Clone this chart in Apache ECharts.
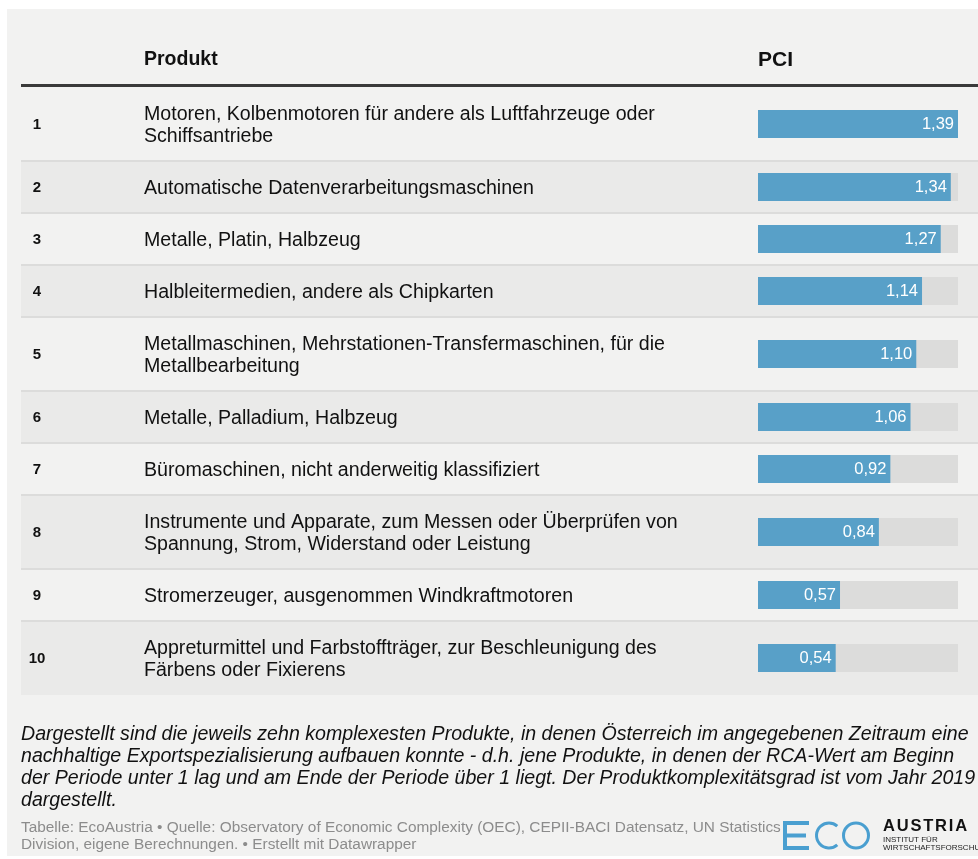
<!DOCTYPE html>
<html>
<head>
<meta charset="utf-8">
<title>PCI Tabelle</title>
<script src="https://cdn.jsdelivr.net/npm/echarts@6/dist/echarts.min.js"></script>
<style>
html, body { margin: 0; padding: 0; background: #ffffff; }
#chart { width: 978px; height: 859px; }
</style>
</head>
<body>
<div id="chart"></div>
<script>
// Daten
var ranks = ['1', '2', '3', '4', '5', '6', '7', '8', '9', '10'];
var products = [
	'Motoren, Kolbenmotoren für andere als Luftfahrzeuge oder\nSchiffsantriebe',
	'Automatische Datenverarbeitungsmaschinen',
	'Metalle, Platin, Halbzeug',
	'Halbleitermedien, andere als Chipkarten',
	'Metallmaschinen, Mehrstationen-Transfermaschinen, für die\nMetallbearbeitung',
	'Metalle, Palladium, Halbzeug',
	'Büromaschinen, nicht anderweitig klassifiziert',
	'Instrumente und Apparate, zum Messen oder Überprüfen von\nSpannung, Strom, Widerstand oder Leistung',
	'Stromerzeuger, ausgenommen Windkraftmotoren',
	'Appreturmittel und Farbstoffträger, zur Beschleunigung des\nFärbens oder Fixierens'
];
var pci = [1.39, 1.34, 1.27, 1.14, 1.10, 1.06, 0.92, 0.84, 0.57, 0.54];
var headers = ['Produkt', 'PCI'];
var noteLines = [
	'Dargestellt sind die jeweils zehn komplexesten Produkte, in denen Österreich im angegebenen Zeitraum eine',
	'nachhaltige Exportspezialisierung aufbauen konnte - d.h. jene Produkte, in denen der RCA-Wert am Beginn',
	'der Periode unter 1 lag und am Ende der Periode über 1 liegt. Der Produktkomplexitätsgrad ist vom Jahr 2019',
	'dargestellt.'
];
var sourceLines = [
	'Tabelle: EcoAustria • Quelle: Observatory of Economic Complexity (OEC), CEPII-BACI Datensatz, UN Statistics',
	'Division, eigene Berechnungen. • Erstellt mit Datawrapper'
];

var FONT = 'Liberation Sans, Arial, Helvetica, sans-serif';
var tableLeft = 21, tableRight = 978;
var barLeft = 758, barWidth = 200, barHeight = 28;
var firstRowTop = 87;

var myChart = echarts.init(document.getElementById('chart'), null, { renderer: 'canvas' });

var graphics = [];
var grids = [], xAxes = [], yAxes = [], series = [];

// Karte
graphics.push({ type: 'rect', shape: { x: 7, y: 9, width: 971, height: 847 }, style: { fill: '#f2f2f1' }, z: 0 });

// Kopfzeile
graphics.push({ type: 'text', x: 144, y: 60, style: { text: headers[0], font: 'bold 19.5px ' + FONT, fill: '#111', verticalAlign: 'middle' }, z: 5 });
graphics.push({ type: 'text', x: barLeft, y: 60, style: { text: headers[1], font: 'bold 21px ' + FONT, fill: '#111', verticalAlign: 'middle' }, z: 5 });
graphics.push({ type: 'rect', shape: { x: tableLeft, y: 84, width: tableRight - tableLeft, height: 3 }, style: { fill: '#3a3a3a' }, z: 5 });

var yPos = firstRowTop;
var maxVal = Math.max.apply(null, pci);
for (var i = 0; i < ranks.length; i++) {
	var lines = products[i].split('\n').length;
	var h = lines > 1 ? 74 : 52;
	// Zeilenhintergrund
	graphics.push({ type: 'rect', shape: { x: tableLeft, y: yPos, width: tableRight - tableLeft, height: h }, style: { fill: i % 2 === 0 ? '#f2f2f1' : '#eaeae9' }, z: 1 });
	if (i > 0) {
		graphics.push({ type: 'rect', shape: { x: tableLeft, y: yPos - 1, width: tableRight - tableLeft, height: 2 }, style: { fill: '#dcdcdb' }, z: 2 });
	}
	var cy = yPos + h / 2;
	graphics.push({ type: 'text', x: 37, y: cy + 1, style: { text: ranks[i], font: 'bold 15px ' + FONT, fill: '#111', align: 'center', verticalAlign: 'middle' }, z: 5 });
	graphics.push({ type: 'text', x: 144, y: cy + 1.5, style: { text: products[i], font: '19.6px ' + FONT, lineHeight: 22, fill: '#111', verticalAlign: 'middle' }, z: 5 });

	grids.push({ left: barLeft, width: barWidth, top: Math.round(cy - barHeight / 2), height: barHeight });
	xAxes.push({ type: 'value', gridIndex: i, min: 0, max: maxVal, show: false });
	yAxes.push({ type: 'category', gridIndex: i, data: [ranks[i]], show: false });
	series.push({
		type: 'bar',
		xAxisIndex: i,
		yAxisIndex: i,
		data: [pci[i]],
		barWidth: barHeight,
		showBackground: true,
		backgroundStyle: { color: '#dcdcdb' },
		itemStyle: { color: '#58a0c8' },
		label: {
			show: true,
			position: 'insideRight',
			distance: 4,
			color: '#ffffff',
			fontSize: 16.5,
			fontFamily: FONT,
			formatter: function(p) {
				return p.value.toFixed(2).replace('.', ',');
			}
		},
		silent: true,
		animation: false,
		z: 10
	});
	yPos += h;
}

// Anmerkungen
for (var n = 0; n < noteLines.length; n++) {
	graphics.push({ type: 'text', x: 21, y: 735 + n * 22, style: { text: noteLines[n], font: 'italic 19.6px ' + FONT, fill: '#111', verticalAlign: 'middle' }, z: 5 });
}
for (var s = 0; s < sourceLines.length; s++) {
	graphics.push({ type: 'text', x: 21, y: 828 + s * 17, style: { text: sourceLines[s], font: '15.4px ' + FONT, fill: '#8c8c8c', verticalAlign: 'middle' }, z: 5 });
}

// Logo
var logoBlue = '#4a9fd0';
graphics.push({ type: 'polyline', shape: { points: [[809, 823], [785, 823], [785, 848], [809, 848]] }, style: { stroke: logoBlue, lineWidth: 4, fill: null }, z: 6 });
graphics.push({ type: 'line', shape: { x1: 787, y1: 835.5, x2: 806, y2: 835.5 }, style: { stroke: logoBlue, lineWidth: 4 }, z: 6 });
graphics.push({ type: 'arc', shape: { cx: 829, cy: 835.5, r: 12.5, startAngle: Math.PI * 0.27, endAngle: Math.PI * 1.73, clockwise: true }, style: { stroke: logoBlue, lineWidth: 3, fill: null }, z: 6 });
graphics.push({ type: 'circle', shape: { cx: 856, cy: 835.5, r: 12.5 }, style: { stroke: logoBlue, lineWidth: 3, fill: null }, z: 6 });

// AUSTRIA mit Sperrung
var ctx = document.createElement('canvas').getContext('2d');
var logoFont = 'bold 16.5px ' + FONT;
ctx.font = logoFont;
var lx = 883;
'AUSTRIA'.split('').forEach(function(ch) {
	graphics.push({ type: 'text', x: lx, y: 826, style: { text: ch, font: logoFont, fill: '#111', verticalAlign: 'middle' }, z: 6 });
	lx += ctx.measureText(ch).width + 1.8;
});
graphics.push({ type: 'text', x: 883, y: 840, style: { text: 'INSTITUT FÜR', font: '8px ' + FONT, fill: '#222', verticalAlign: 'middle' }, z: 6 });
graphics.push({ type: 'text', x: 883, y: 848, style: { text: 'WIRTSCHAFTSFORSCHUNG', font: '8px ' + FONT, fill: '#222', verticalAlign: 'middle' }, z: 6 });

var option = {
	backgroundColor: '#ffffff',
	animation: false,
	graphic: { elements: graphics },
	grid: grids,
	xAxis: xAxes,
	yAxis: yAxes,
	series: series
};
myChart.setOption(option);
window.addEventListener('resize', function() {
	myChart.resize();
});
</script>
</body>
</html>
